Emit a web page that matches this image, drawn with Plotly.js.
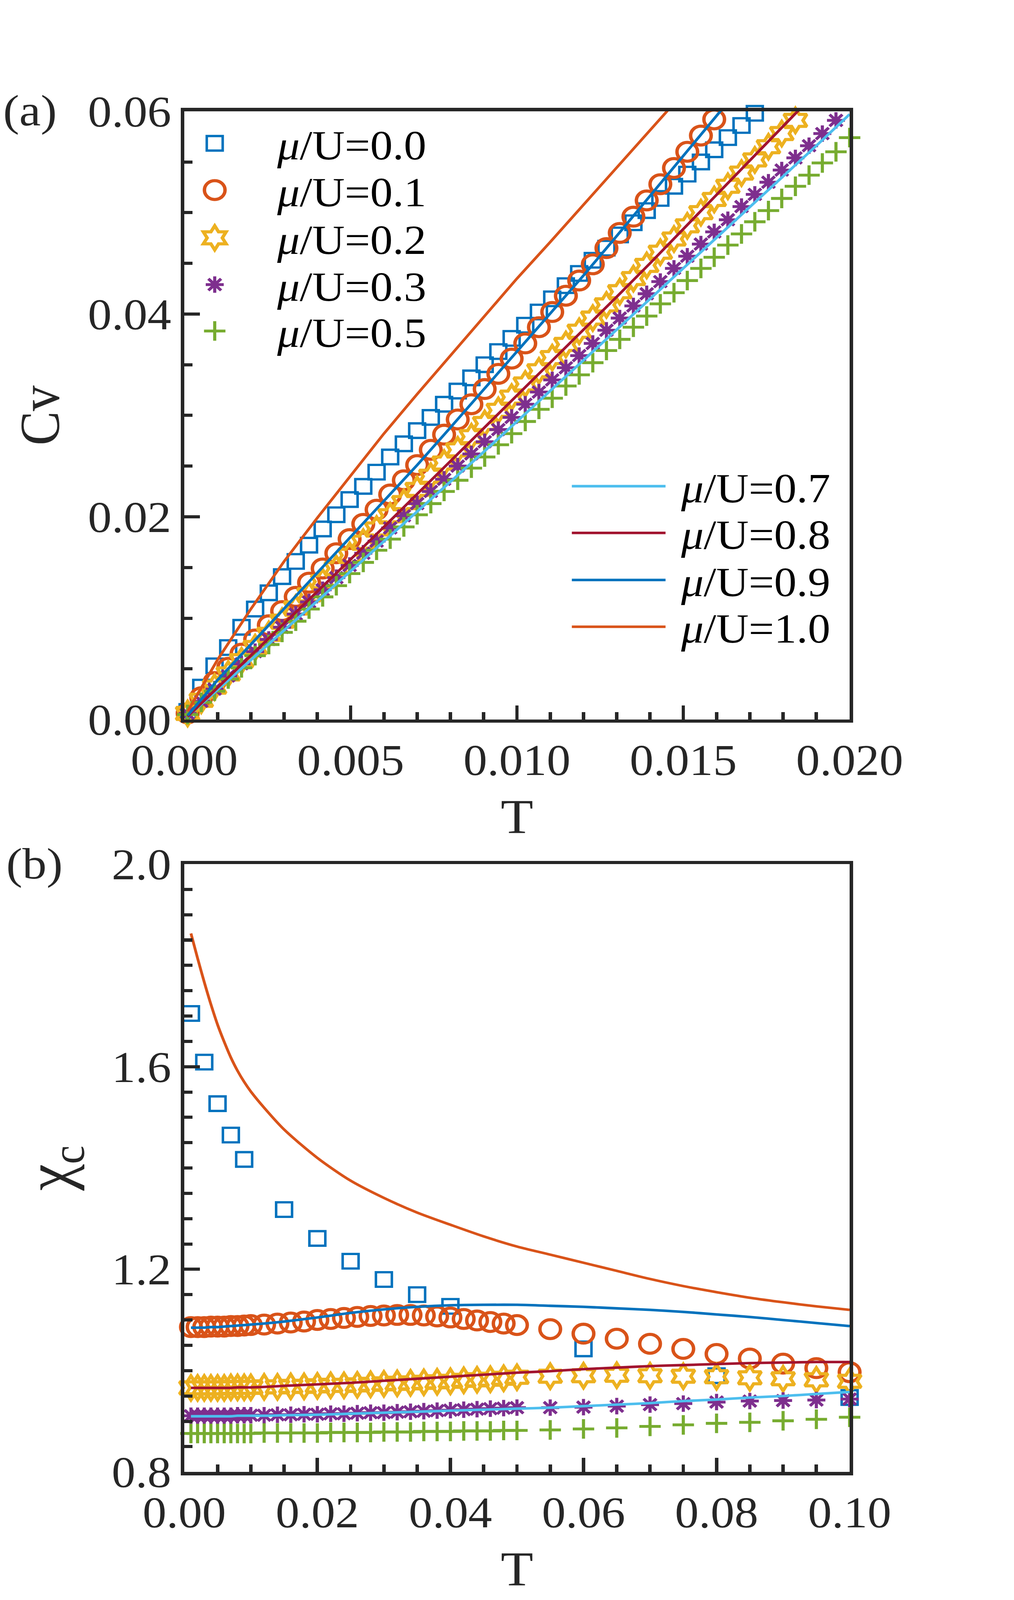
<!DOCTYPE html>
<html>
<head>
<meta charset="utf-8">
<script src="https://cdn.plot.ly/plotly-3.0.1.min.js"></script>
<style>
html,body{margin:0;padding:0;background:#fff;overflow:hidden;width:100vw;height:100vh;}
#plot{transform-origin:0 0;}
</style>
</head>
<body>
<div id="plot"></div>
<script>
// ---------------- DATA ----------------
// Panel (a): specific heat Cv vs T
const Ta = [0.0001,0.00051,0.00091,0.00132,0.00172,0.00213,0.00254,0.00294,0.00335,0.00375,
  0.00416,0.00457,0.00497,0.00538,0.00578,0.00619,0.0066,0.007,0.00741,0.00781,
  0.00822,0.00863,0.00903,0.00944,0.00984,0.01025,0.01066,0.01106,0.01147,0.01187,
  0.01228,0.01269,0.01309,0.0135,0.0139,0.01431,0.01472,0.01512,0.01553,0.01593,
  0.01634,0.01675,0.01715,0.01756,0.01796,0.01837,0.01878,0.01918,0.01959,0.02];
const cvMu00 = [0.0008,0.0032,0.0053,0.0071,0.0091,0.0109,0.0125,0.0141,0.0156,0.0172,
  0.0188,0.0202,0.0217,0.0230,0.0244,0.0259,0.0272,0.0285,0.0298,0.0311,
  0.0324,0.0337,0.0350,0.0363,0.0376,0.0389,0.0402,0.0415,0.0428,0.0440,
  0.0453,0.0465,0.0478,0.0490,0.0502,0.0514,0.0526,0.0538,0.0550,0.0562,
  0.0574,0.0586,0.0598];
const cvMu01 = [0.0006,0.0022,0.0037,0.0051,0.0065,0.0079,0.0093,0.0107,0.0121,0.0135,
  0.0149,0.0164,0.0178,0.0193,0.0207,0.0222,0.0236,0.0251,0.0266,0.0281,
  0.0296,0.0311,0.0326,0.0341,0.0356,0.0371,0.0387,0.0402,0.0418,0.0433,
  0.0449,0.0465,0.0480,0.0496,0.0512,0.0528,0.0544,0.0560,0.0576,0.0592];
const cvMu02 = [0.0006,0.0019,0.0032,0.0045,0.0058,0.0071,0.0084,0.0097,0.0110,0.0123,
  0.0136,0.0149,0.0162,0.0175,0.0188,0.0201,0.0214,0.0227,0.0240,0.0253,
  0.0266,0.0279,0.0292,0.0305,0.0318,0.0331,0.0344,0.0357,0.0370,0.0383,
  0.0396,0.0409,0.0422,0.0435,0.0448,0.0461,0.0474,0.0487,0.0500,0.0513,
  0.0526,0.0539,0.0552,0.0565,0.0578,0.0591,0.0604];
const cvMu03 = [0.0006,0.0018,0.0030,0.0043,0.0055,0.0067,0.0079,0.0091,0.0104,0.0116,
  0.0128,0.0140,0.0152,0.0164,0.0176,0.0189,0.0201,0.0213,0.0225,0.0237,
  0.0250,0.0262,0.0274,0.0286,0.0298,0.0311,0.0323,0.0335,0.0347,0.0359,
  0.0371,0.0384,0.0396,0.0408,0.0420,0.0432,0.0445,0.0457,0.0469,0.0481,
  0.0493,0.0506,0.0518,0.0530,0.0542,0.0554,0.0566,0.0578,0.0591,0.0603];
const cvMu05 = [0.0005,0.0017,0.0028,0.0040,0.0051,0.0063,0.0074,0.0086,0.0097,0.0109,
  0.0121,0.0132,0.0144,0.0155,0.0167,0.0178,0.0190,0.0202,0.0213,0.0225,
  0.0236,0.0248,0.0259,0.0271,0.0282,0.0294,0.0306,0.0317,0.0329,0.0340,
  0.0352,0.0364,0.0375,0.0387,0.0398,0.0410,0.0421,0.0433,0.0445,0.0456,
  0.0468,0.0479,0.0491,0.0502,0.0514,0.0526,0.0537,0.0549,0.0560,0.0574];
const TaLine = [0.0001,0.001,0.002,0.003,0.004,0.005,0.006,0.007,0.008,0.009,0.010,
  0.011,0.012,0.013,0.014,0.015,0.016,0.017,0.018,0.019,0.020];
const cvMu07 = [0.0003,0.0030,0.0059,0.0088,0.0117,0.0146,0.0175,0.0204,0.0234,0.0264,0.0294,
  0.0324,0.0354,0.0384,0.0414,0.0444,0.0474,0.0504,0.0535,0.0566,0.0597];
const cvMu08 = [0.0003,0.0032,0.0063,0.0095,0.0126,0.0158,0.0190,0.0222,0.0254,0.0286,0.0318,
  0.0351,0.0384,0.0417,0.0450,0.0483,0.0517,0.0551,0.0585,0.0619];
const cvMu09 = [0.0004,0.0039,0.0074,0.0109,0.0144,0.0179,0.0215,0.0251,0.0288,0.0325,0.0362,
  0.0400,0.0438,0.0477,0.0516,0.0555,0.0595,0.0635];
const cvMu10 = [0.0008,0.0059,0.0109,0.0156,0.0199,0.0241,0.0282,0.0321,0.0360,0.0398,0.0435,
  0.0471,0.0508,0.0545,0.0582,0.0618];

// Panel (b): charge susceptibility chi_c vs T
const Tb = [0.001,0.002,0.003,0.004,0.005,0.006,0.007,0.008,0.009,0.010,
  0.012,0.014,0.016,0.018,0.020,0.022,0.024,0.026,0.028,0.030,
  0.032,0.034,0.036,0.038,0.040,0.042,0.044,0.046,0.048,0.050,
  0.055,0.060,0.065,0.070,0.075,0.080,0.085,0.090,0.095,0.100];
const TbMu00 = [0.001,0.003,0.005,0.007,0.009,0.015,0.020,0.025,0.030,0.035,0.040,0.060,0.080,0.100];
const chiMu00 = [1.705,1.609,1.527,1.465,1.417,1.318,1.261,1.216,1.180,1.150,1.127,1.043,0.990,0.947];
const chiMu01 = [1.086,1.086,1.086,1.087,1.087,1.087,1.088,1.088,1.089,1.090,
  1.091,1.093,1.095,1.097,1.100,1.102,1.104,1.106,1.108,1.109,
  1.110,1.110,1.109,1.107,1.105,1.102,1.099,1.096,1.093,1.090,
  1.082,1.073,1.063,1.053,1.043,1.033,1.024,1.014,1.005,0.997];
const chiMu02 = [0.966,0.966,0.966,0.966,0.966,0.966,0.967,0.967,0.967,0.967,
  0.968,0.968,0.969,0.969,0.970,0.971,0.971,0.972,0.973,0.974,
  0.975,0.976,0.977,0.978,0.979,0.981,0.982,0.983,0.985,0.987,
  0.989,0.990,0.991,0.990,0.989,0.988,0.986,0.984,0.982,0.979];
const chiMu03 = [0.911,0.911,0.911,0.911,0.911,0.911,0.911,0.912,0.912,0.912,
  0.912,0.913,0.913,0.914,0.914,0.915,0.915,0.916,0.917,0.917,
  0.918,0.919,0.920,0.921,0.922,0.923,0.924,0.925,0.926,0.927,
  0.927,0.928,0.930,0.933,0.935,0.938,0.940,0.941,0.942,0.944];
const chiMu05 = [0.876,0.876,0.876,0.876,0.876,0.876,0.876,0.876,0.876,0.876,
  0.877,0.877,0.877,0.877,0.877,0.878,0.878,0.878,0.878,0.879,
  0.879,0.879,0.880,0.880,0.880,0.881,0.881,0.881,0.882,0.882,
  0.883,0.885,0.887,0.890,0.893,0.896,0.898,0.901,0.904,0.908];
const TbLine = [0.001,0.002,0.003,0.004,0.005,0.006,0.007,0.008,0.009,0.010,
  0.012,0.015,0.020,0.025,0.030,0.035,0.040,0.045,0.050,0.055,
  0.060,0.065,0.070,0.075,0.080,0.085,0.090,0.095,0.100];
const chiMu07 = [0.910,0.910,0.910,0.910,0.910,0.910,0.910,0.911,0.911,0.911,
  0.911,0.912,0.913,0.915,0.917,0.919,0.921,0.923,0.925,0.927,
  0.930,0.933,0.936,0.940,0.943,0.947,0.950,0.954,0.958];
const chiMu08 = [0.966,0.966,0.966,0.966,0.966,0.966,0.966,0.967,0.967,0.967,
  0.968,0.970,0.973,0.976,0.980,0.984,0.988,0.992,0.996,0.999,
  1.003,1.006,1.009,1.011,1.013,1.015,1.016,1.017,1.017];
const chiMu09 = [1.085,1.085,1.085,1.086,1.086,1.087,1.088,1.089,1.090,1.091,
  1.093,1.097,1.105,1.114,1.121,1.126,1.129,1.130,1.130,1.128,
  1.126,1.123,1.120,1.116,1.111,1.106,1.100,1.094,1.088];
const chiMu10 = [1.863,1.814,1.767,1.723,1.683,1.649,1.618,1.592,1.570,1.551,
  1.519,1.476,1.420,1.375,1.341,1.312,1.288,1.265,1.245,1.229,
  1.213,1.197,1.181,1.167,1.155,1.144,1.135,1.127,1.120];

const markerNames = ['<i>μ</i>/U=0.0','<i>μ</i>/U=0.1','<i>μ</i>/U=0.2','<i>μ</i>/U=0.3','<i>μ</i>/U=0.5'];
const lineNames = ['<i>μ</i>/U=0.7','<i>μ</i>/U=0.8','<i>μ</i>/U=0.9','<i>μ</i>/U=1.0'];
const xTicksA = [0, 0.005, 0.010, 0.015, 0.020];
const yTicksA = [0, 0.02, 0.04, 0.06];
const xTicksB = [0, 0.02, 0.04, 0.06, 0.08, 0.10];
const yTicksB = [0.8, 1.2, 1.6, 2.0];

// ---------------- STYLE / LAYOUT ----------------
// The figure is laid out at 1/8 of the 2597 x 4487 picture and scaled up to fill the window.
const S = 8;
const FULLW = 2597, FULLH = 4487;
const W = FULLW / S, H = FULLH / S;
const FONT = 'Liberation Serif, Times New Roman, serif';
const INK = '#262626';
const C = {blue:'#0072BD', orange:'#D95319', yellow:'#EDB120', purple:'#7E2F8E',
           green:'#77AC30', lblue:'#4DBEEE', dred:'#A2142F'};
// plot-area edges in full-size picture pixels
const L = 472, R = 2175, TOPA = 315, BOTA = 2020, TOPB = 2425, BOTB = 4129;
const px = X => (X - L) / (R - L);
const py = Y => (BOTB - Y) / (BOTB - TOPA);

const mk = {
  sq:  {symbol:'square-open',     size:5.1,  lw:0.8},
  ci:  {symbol:'circle-open',     size:6.6,  lw:1.1},
  hx:  {symbol:'hexagram-open',   size:6.4,  lw:1.1},
  as:  {symbol:'asterisk-open',   size:4.8,  lw:1.0},
  pl:  {symbol:'cross-thin-open', size:4.9,  lw:1.0}
};
function marker(kind, color){
  const m = mk[kind];
  return {symbol:m.symbol, size:m.size, color:color, line:{width:m.lw, color:color}};
}

const markerSets = [
  {x:Ta, y:cvMu00, k:'sq', c:C.blue},
  {x:Ta, y:cvMu01, k:'ci', c:C.orange},
  {x:Ta, y:cvMu02, k:'hx', c:C.yellow},
  {x:Ta, y:cvMu03, k:'as', c:C.purple},
  {x:Ta, y:cvMu05, k:'pl', c:C.green}
];
const lineSets = [
  {x:TaLine, y:cvMu07, c:C.lblue},
  {x:TaLine, y:cvMu08, c:C.dred},
  {x:TaLine, y:cvMu09, c:C.blue},
  {x:TaLine, y:cvMu10, c:C.orange}
];
const markerSetsB = [
  {x:TbMu00, y:chiMu00, k:'sq', c:C.blue},
  {x:Tb, y:chiMu01, k:'ci', c:C.orange},
  {x:Tb, y:chiMu02, k:'hx', c:C.yellow},
  {x:Tb, y:chiMu03, k:'as', c:C.purple},
  {x:Tb, y:chiMu05, k:'pl', c:C.green}
];
const lineSetsB = [
  {x:TbLine, y:chiMu07, c:C.lblue},
  {x:TbLine, y:chiMu08, c:C.dred},
  {x:TbLine, y:chiMu09, c:C.blue},
  {x:TbLine, y:chiMu10, c:C.orange}
];

const traces = [];
markerSets.forEach((s,i) => traces.push({
  type:'scatter', mode:'markers', x:s.x, y:s.y, xaxis:'x', yaxis:'y',
  name:markerNames[i], legend: i === 0 ? 'legend' : 'legend' + (i+1),
  marker:marker(s.k, s.c), cliponaxis:false
}));
markerSetsB.forEach((s,i) => traces.push({
  type:'scatter', mode:'markers', x:s.x, y:s.y, xaxis:'x2', yaxis:'y2',
  name:markerNames[i], showlegend:false, marker:marker(s.k, s.c), cliponaxis:false
}));
lineSets.forEach((s,i) => traces.push({
  type:'scatter', mode:'lines', x:s.x, y:s.y, xaxis:'x', yaxis:'y',
  name:lineNames[i], legend:'legend' + (i+6),
  line:{color:s.c, width:0.9}
}));
lineSetsB.forEach((s,i) => traces.push({
  type:'scatter', mode:'lines', x:s.x, y:s.y, xaxis:'x2', yaxis:'y2',
  name:lineNames[i], showlegend:false,
  line:{color:s.c, width:0.9, shape:'spline', smoothing:0.8}
}));

function axis(extra, minorDtick, minorTick0){
  return Object.assign({
    ticks:'inside', ticklen:5, tickwidth:1.1, tickcolor:INK,
    showline:true, linecolor:INK, linewidth:1.15, mirror:true,
    showgrid:false, zeroline:false, automargin:false,
    tickfont:{family:FONT, size:15.25, color:INK},
    minor:{ticks:'inside', ticklen:2.6, tickwidth:1.1, tickcolor:INK, showgrid:false,
           dtick:minorDtick, tick0:minorTick0}
  }, extra);
}

const layout = {
  width:W, height:H,
  margin:{l:L/S, r:(FULLW-R)/S, t:TOPA/S, b:(FULLH-BOTB)/S, autoexpand:false},
  paper_bgcolor:'#fff', plot_bgcolor:'#fff',
  font:{family:FONT, color:INK},
  xaxis: axis({domain:[0,1], anchor:'y', range:[0,0.02], tickvals:xTicksA, tickformat:'.3f',
    title:{text:'T', font:{family:FONT, size:17, color:INK}, standoff:6}}, 0.001, 0),
  yaxis: axis({domain:[py(BOTA),1], anchor:'x', range:[0,0.06], tickvals:yTicksA, tickformat:'.2f',
    title:{text:'Cv', font:{family:FONT, size:18, color:INK}, standoff:3.5}}, 0.005, 0),
  xaxis2: axis({domain:[0,1], anchor:'y2', range:[0,0.1], tickvals:xTicksB, tickformat:'.2f',
    title:{text:'T', font:{family:FONT, size:17, color:INK}, standoff:6}}, 0.005, 0),
  yaxis2: axis({domain:[0,py(TOPB)], anchor:'x2', range:[0.8,2.0], tickvals:yTicksB, tickformat:'.1f',
    title:{text:'χ<sub>c</sub>', font:{family:FONT, size:21, color:INK}, standoff:6.5}}, 0.05, 0.8),
  annotations:[
    {text:'(a)', xref:'paper', yref:'paper', x:px(78), y:py(316), xanchor:'center', yanchor:'middle',
     showarrow:false, font:{family:FONT, size:15.5, color:INK}},
    {text:'(b)', xref:'paper', yref:'paper', x:px(86), y:py(2427), xanchor:'center', yanchor:'middle',
     showarrow:false, font:{family:FONT, size:15.5, color:INK}}
  ]
};

// one single-entry legend per series, so each row sits where the original puts it
const markerRowsY = [406, 537, 671, 802, 932];
const lineRowsY = [1367, 1498, 1630, 1761];
function legendBox(xFull, yFull){
  return {x:px(xFull), y:py(yFull), xanchor:'left', yanchor:'middle', xref:'paper', yref:'paper',
    bgcolor:'rgba(0,0,0,0)', borderwidth:0, itemclick:false, itemdoubleclick:false,
    font:{family:FONT, size:14.4, color:'#000'}};
}
markerRowsY.forEach((y,i) => { layout[i === 0 ? 'legend' : 'legend' + (i+1)] = legendBox(550 - 20*S, y); });
lineRowsY.forEach((y,i) => { layout['legend' + (i+6)] = legendBox(1464 - 5*S, y); });
layout.showlegend = true;

// scale the drawing so it fills the window exactly, whatever the device pixel ratio
const el = document.getElementById('plot');
const vw = window.innerWidth || document.documentElement.clientWidth || FULLW;
const vh = window.innerHeight || document.documentElement.clientHeight || FULLH;
el.style.width = W + 'px';
el.style.height = H + 'px';
el.style.transform = 'scale(' + (vw / W) + ',' + (vh / H) + ')';

Plotly.newPlot(el, traces, layout, {staticPlot:true, displayModeBar:false});
</script>
</body>
</html>
